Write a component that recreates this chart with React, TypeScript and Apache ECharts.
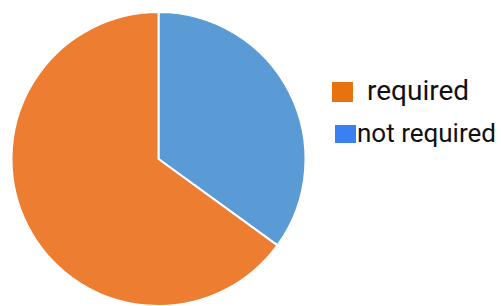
import React, { useEffect, useRef } from "react";
import * as echarts from "echarts";

const categories = ["not required", "required"];
const values = [35, 65];
const sliceColors = ["#5B9BD5", "#ED7D31"];
const legendLabels = ["required", "not required"];
const legendColors = ["#E8720E", "#3A80F2"];

export default function App() {
  const ref = useRef<HTMLDivElement>(null);
  useEffect(() => {
    if (!ref.current) return;
    const chart = echarts.init(ref.current, null, { renderer: "svg" });
    chart.setOption({
      animation: false,
      backgroundColor: "#ffffff",
      series: [
        {
          type: "pie",
          center: [158.5, 159],
          radius: 147,
          startAngle: 90,
          clockwise: true,
          label: { show: false },
          labelLine: { show: false },
          itemStyle: { borderColor: "#ffffff", borderWidth: 2 },
          data: categories.map((c, i) => ({
            name: c,
            value: values[i],
            itemStyle: { color: sliceColors[i] },
          })),
        },
      ],
      graphic: [
        { type: "rect", left: 332, top: 82, shape: { width: 21, height: 20 }, style: { fill: legendColors[0] } },
        {
          type: "text",
          x: 367,
          y: 90,
          style: { text: legendLabels[0], fill: "#111111", font: "28px Roboto", align: "left", verticalAlign: "middle" },
        },
        { type: "rect", left: 335, top: 125, shape: { width: 21, height: 18 }, style: { fill: legendColors[1] } },
        {
          type: "text",
          x: 357,
          y: 133,
          style: { text: legendLabels[1], fill: "#111111", font: "26px Roboto", align: "left", verticalAlign: "middle" },
        },
      ],
    });
    return () => chart.dispose();
  }, []);
  return (
    <div
      ref={ref}
      style={{ position: "absolute", left: 0, top: 0, width: 501, height: 306 }}
    />
  );
}
